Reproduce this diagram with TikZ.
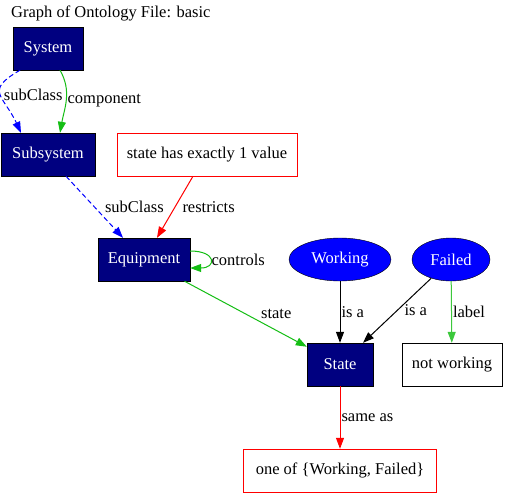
\documentclass[tikz,border=0pt]{standalone}
\usepackage{fontspec}
\setmainfont{Liberation Serif}
\usetikzlibrary{arrows.meta}
\usetikzlibrary{positioning}
\usetikzlibrary{shapes.geometric}
\definecolor{mnavy}{RGB}{0,0,128}
\definecolor{mblue}{RGB}{0,0,255}
\definecolor{mgreen}{RGB}{20,190,20}
\definecolor{mlgreen}{RGB}{60,200,60}
\definecolor{mred}{RGB}{255,0,0}
\tikzset{cls/.style = {draw=black, fill=mnavy, text=white,
                       minimum height=43pt, inner sep=0pt},
         inst/.style = {ellipse, draw=black, fill=mblue, text=white,
                        minimum height=43pt, inner sep=0pt},
         restr/.style = {draw=mred, fill=white, minimum height=43pt, inner sep=0pt},
         lit/.style = {draw=black, fill=white, minimum height=43pt, inner sep=0pt},
         lbl/.style = {inner sep=1pt, text=black},
         edge/.style = {-{Triangle[length=11pt, width=8pt]}, line width=1pt},
         subcls/.style = {edge, mblue, dash pattern=on 5pt off 3pt}}

\begin{document}
\begin{tikzpicture}[x=1pt, y=-1pt, font=\fontsize{16.5}{19}\selectfont]
    \useasboundingbox [fill=white] (0, 0) rectangle (518, 503);

    \node [anchor=west, inner sep=0pt] (title) at (11, 13) {Graph of Ontology File: basic};

    \node [cls, minimum width=70pt] (sys) at (48, 48.5) {System};
    \node [cls, minimum width=94pt] (subsys) at (48, 154.5) {Subsystem};
    \node [restr, minimum width=180pt] (card) at (207, 154.5) {state has exactly 1 value};
    \node [cls, minimum width=92pt] (equip) at (144, 259.5) {Equipment};
    \node [inst, minimum width=102pt] (work) at (340, 259.5) {Working};
    \node [inst, minimum width=78pt] (fail) at (451, 259.5) {Failed};
    \node [cls, minimum width=66pt] (state) at (340, 364.5) {State};
    \node [lit, minimum width=100pt] (notw) at (452, 364.5) {not working};
    \node [restr, minimum width=193pt] (oneof) at (340, 470.5) {one of \{Working, Failed\}};

    \draw [subcls] ([xshift=-28pt]sys.south) to [out=-150, in=115, looseness=1.7]
        node [lbl, right=2pt] {subClass} ([xshift=-27pt]subsys.north);
    \draw [edge, mgreen] ([xshift=12pt]sys.south) to [out=-60, in=80]
        node [lbl, right] {component} ([xshift=12pt]subsys.north);
    \draw [subcls] ([xshift=18pt]subsys.south) -- node [lbl, right=9pt] {subClass} ([xshift=-21pt]equip.north);
    \draw [edge, mred] ([xshift=-14pt]card.south) -- node [lbl, right=6pt] {restricts} ([xshift=13pt]equip.north);
    \draw [edge, mgreen] ([yshift=8.5pt]equip.east) to [out=0, in=0, looseness=4]
        node [lbl, right] {controls} ([yshift=-8.5pt]equip.east);
    \draw [edge, mgreen] (equip) -- node [lbl, right=14pt] {state} (state);
    \draw [edge, black] (work) -- node [lbl, right] {is a} (state);
    \draw [edge, black] (fail) -- node [lbl, right=6pt] {is a} ([xshift=23pt]state.north);
    \draw [edge, mlgreen] (fail) -- node [lbl, right] {label} (notw);
    \draw [edge, mred] (state) -- node [lbl, right] {same as} (oneof);
\end{tikzpicture}
\end{document}
